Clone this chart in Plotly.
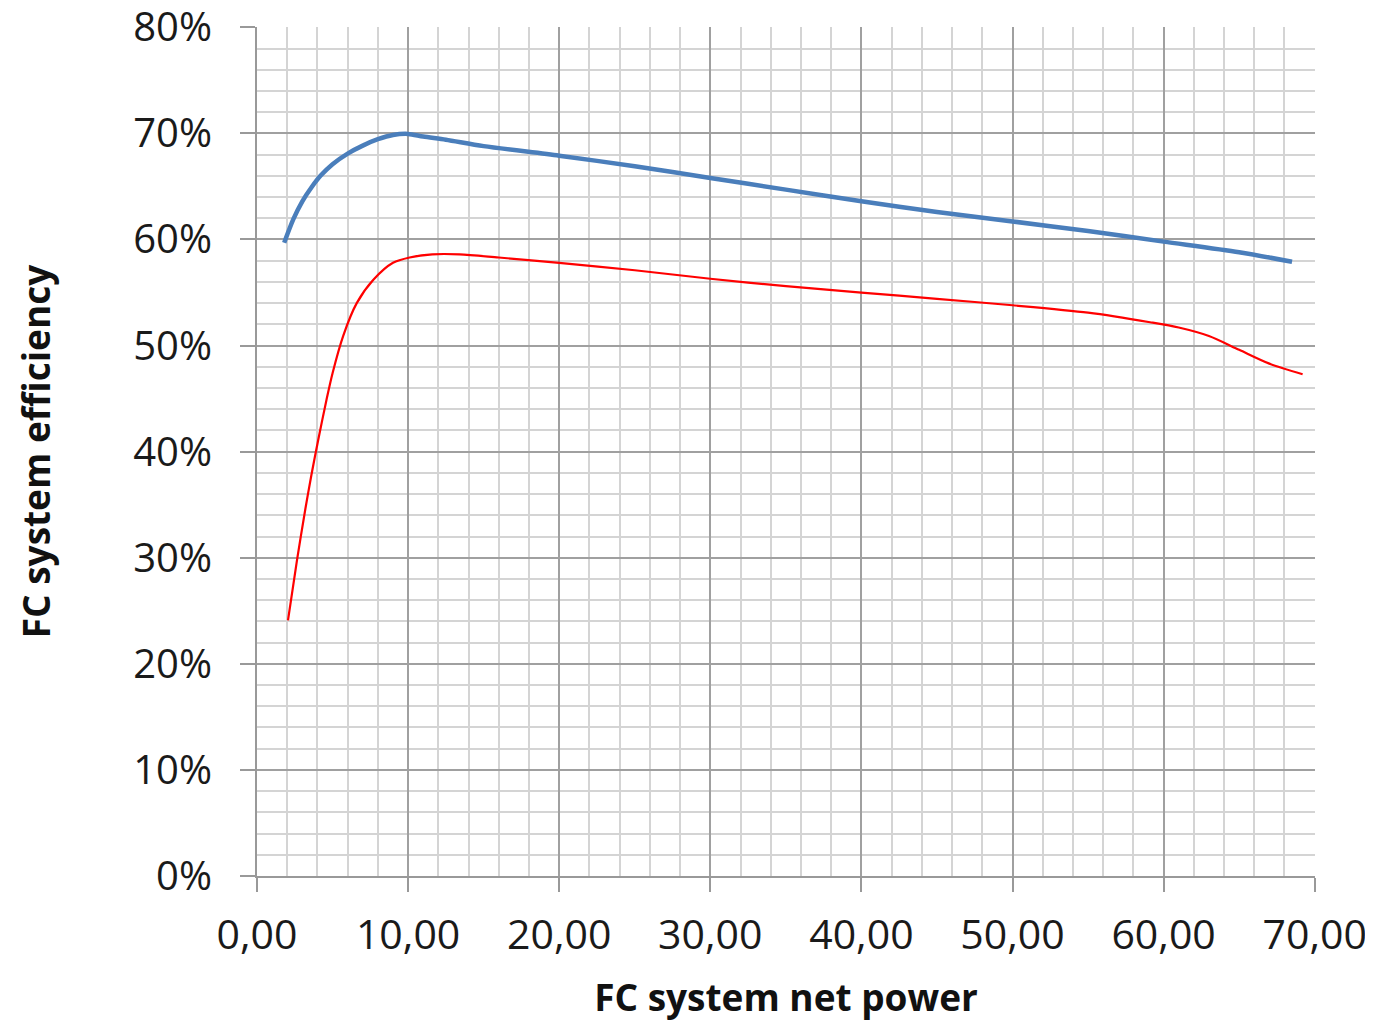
import plotly.graph_objects as go

# Data
blue_x = [1.8, 2.4, 3.0, 3.6, 4.2, 5.0, 6.0, 7.0, 8.0, 9.0, 10.0, 11.0, 12.5, 15.0, 20.0, 25.0, 30.0, 35.0, 40.0, 45.0, 50.0, 55.0, 60.0, 65.0, 68.5]
blue_y = [0.597, 0.619, 0.636, 0.649, 0.660, 0.671, 0.681, 0.6885, 0.6945, 0.6985, 0.6995, 0.697, 0.694, 0.688, 0.679, 0.669, 0.658, 0.647, 0.636, 0.626, 0.617, 0.608, 0.598, 0.588, 0.579]

red_x = [2.05, 2.65, 3.2, 3.6, 4.05, 4.6, 5.0, 5.7, 6.6, 7.7, 9.0, 10.1, 11.6, 13.4, 16.0, 20.0, 25.0, 30.0, 35.0, 40.0, 45.0, 50.0, 55.0, 59.1, 61.0, 63.0, 65.0, 67.0, 69.2]
red_y = [0.241, 0.298, 0.346, 0.378, 0.411, 0.449, 0.474, 0.509, 0.540, 0.562, 0.578, 0.583, 0.586, 0.586, 0.583, 0.578, 0.571, 0.563, 0.556, 0.550, 0.544, 0.538, 0.531, 0.522, 0.517, 0.509, 0.496, 0.483, 0.473]

x_tick_vals = [0, 10, 20, 30, 40, 50, 60, 70]
x_tick_text = ["0,00", "10,00", "20,00", "30,00", "40,00", "50,00", "60,00", "70,00"]
y_tick_vals = [0, 0.1, 0.2, 0.3, 0.4, 0.5, 0.6, 0.7, 0.8]
y_tick_text = ["0%", "10%", "20%", "30%", "40%", "50%", "60%", "70%", "80%"]

fig = go.Figure()
fig.add_trace(go.Scatter(x=blue_x, y=blue_y, mode="lines",
                         line=dict(color="#4A7EBB", width=4.5, shape="spline", smoothing=0.8),
                         showlegend=False))
fig.add_trace(go.Scatter(x=red_x, y=red_y, mode="lines",
                         line=dict(color="#FF0000", width=2.2, shape="spline", smoothing=0.8),
                         showlegend=False))

font_family = "Open Sans"
# the page body has an 8px margin, so the figure is sized to end at the window edge
fig.update_layout(
    width=1365, height=1014,
    margin=dict(l=249, r=58, t=19, b=146),
    paper_bgcolor="white", plot_bgcolor="white",
    font=dict(family=font_family, color="#1a1a1a"),
)
fig.update_xaxes(
    range=[0, 70.02], tickmode="array", tickvals=x_tick_vals, ticktext=x_tick_text,
    tickfont=dict(size=41, family=font_family, color="#1a1a1a"),
    ticks="outside", ticklen=14, tickwidth=2, tickcolor="#999999",
    ticklabelstandoff=8, ticklabeloverflow="allow",
    showgrid=True, gridcolor="#A0A0A0", gridwidth=1.5,
    minor=dict(dtick=2, showgrid=True, gridcolor="#D4D4D4", gridwidth=1.5),
    showline=True, linecolor="#999999", linewidth=2,
    zeroline=False, automargin=False,
    title=dict(text="<b>FC system net power</b>", font=dict(size=37, family=font_family, color="#111111"), standoff=27),
)
fig.update_yaxes(
    range=[0, 0.8003], tickmode="array", tickvals=y_tick_vals, ticktext=y_tick_text,
    tickfont=dict(size=40, family=font_family, color="#1a1a1a"),
    ticks="outside", ticklen=15, tickwidth=2, tickcolor="#999999",
    ticklabelstandoff=20, ticklabeloverflow="allow",
    showgrid=True, gridcolor="#A0A0A0", gridwidth=1.5,
    minor=dict(dtick=0.02, showgrid=True, gridcolor="#D4D4D4", gridwidth=1.5),
    showline=True, linecolor="#999999", linewidth=2,
    zeroline=False, automargin=False,
    title=dict(text="<b>FC system efficiency</b>", font=dict(size=37, family=font_family, color="#111111"), standoff=71),
)
fig.write_html("out.html")
